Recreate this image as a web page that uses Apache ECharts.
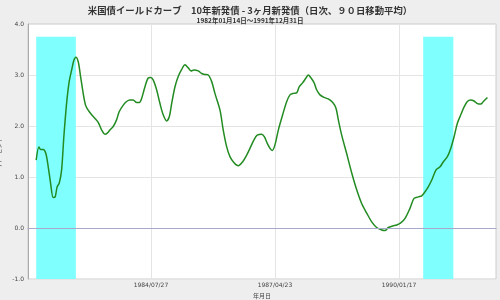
<!DOCTYPE html>
<html>
<head>
<meta charset="utf-8">
<script src="https://cdn.jsdelivr.net/npm/echarts@6/dist/echarts.min.js"></script>
<style>
html,body{margin:0;padding:0;background:#eeeeee;}
#c{width:500px;height:300px;}
</style>
</head>
<body>
<div id="c"></div>
<script>
var titleText = '米国債イールドカーブ　10年新発債 - 3ヶ月新発債（日次、９０日移動平均）';
var subText = '1982年01月14日～1991年12月31日';
var yName = 'パーセント';
var xName = '年月日';

var dates = [
'1982-01-14','1982-02-05','1982-02-19','1982-03-12','1982-04-02','1982-04-21','1982-05-10','1982-05-31','1982-06-16','1982-07-02',
'1982-07-19','1982-08-07','1982-08-25','1982-09-16','1982-10-07','1982-10-27','1982-11-14','1982-11-30','1982-12-19','1983-01-07',
'1983-01-28','1983-02-16','1983-03-09','1983-04-06','1983-05-02','1983-05-29','1983-06-26','1983-07-22','1983-08-10','1983-08-31',
'1983-09-27','1983-10-24','1983-11-14','1983-12-17','1984-01-13','1984-02-09','1984-03-06','1984-04-03','1984-04-24','1984-05-13',
'1984-06-09','1984-07-05','1984-07-25','1984-08-15','1984-09-11','1984-10-08','1984-11-03','1984-12-01','1984-12-22','1985-01-10',
'1985-02-06','1985-03-04','1985-04-01','1985-04-27','1985-05-24','1985-06-15','1985-07-09','1985-08-13','1985-09-09','1985-10-06',
'1985-11-01','1985-11-29','1985-12-25','1986-02-04','1986-03-02','1986-03-30','1986-04-25','1986-05-28','1986-07-01','1986-08-06',
'1986-09-07','1986-10-09','1986-11-05','1986-12-01','1987-01-06','1987-01-27','1987-02-20','1987-03-14','1987-04-01','1987-04-23',
'1987-05-20','1987-06-24','1987-07-27','1987-08-22','1987-09-18','1987-10-15','1987-11-05','1987-12-03','1987-12-29','1988-01-17',
'1988-02-05','1988-03-03','1988-03-24','1988-04-20','1988-05-22','1988-06-26','1988-08-01','1988-08-27','1988-09-15','1988-10-12',
'1988-11-21','1989-01-02','1989-02-10','1989-03-22','1989-05-02','1989-06-11','1989-07-21','1989-08-31','1989-09-26','1989-10-23',
'1989-11-27','1989-12-30','1990-01-31','1990-03-07','1990-04-16','1990-05-18','1990-06-22','1990-07-19','1990-08-15','1990-09-11',
'1990-10-08','1990-11-12','1990-12-14','1991-01-10','1991-02-11','1991-03-10','1991-04-06','1991-05-02','1991-05-30','1991-06-25',
'1991-07-22','1991-08-18','1991-09-14','1991-10-11','1991-11-07','1991-11-28','1991-12-31'
];
var spread = [
1.33,1.59,1.54,1.54,1.46,1.20,0.88,0.60,0.61,0.81,
0.88,1.14,1.79,2.44,2.87,3.10,3.29,3.35,3.26,2.97,
2.64,2.41,2.31,2.22,2.15,2.07,1.92,1.84,1.86,1.92,
1.99,2.12,2.28,2.41,2.48,2.51,2.51,2.46,2.46,2.54,
2.77,2.94,2.95,2.90,2.71,2.44,2.22,2.10,2.18,2.44,
2.77,2.97,3.11,3.20,3.14,3.08,3.10,3.08,3.03,3.01,
3.00,2.87,2.64,2.31,1.92,1.59,1.40,1.28,1.22,1.30,
1.43,1.59,1.73,1.82,1.84,1.79,1.66,1.56,1.52,1.63,
1.92,2.22,2.48,2.61,2.64,2.65,2.77,2.85,2.94,3.00,
2.95,2.85,2.71,2.61,2.56,2.53,2.46,2.35,2.12,1.82,
1.46,1.07,0.75,0.48,0.29,0.12,0.01,-0.04,-0.05,0.01,
0.04,0.06,0.10,0.19,0.39,0.58,0.61,0.63,0.71,0.81,
0.94,1.14,1.20,1.30,1.40,1.56,1.79,2.05,2.22,2.37,
2.48,2.51,2.49,2.44,2.43,2.48,2.56
];
var recessions = [['1982-01-14','1982-11-30'],['1990-07-31','1991-03-31']];
var recessionTop = 3.75;
var xTickDates = ['1984-07-27','1987-04-23','1990-01-17'];
var xRange = ['1981-11-09','1992-03-09'];
var yMin = -1, yMax = 4, yStep = 1;

function dayNum(s){var p=s.split('-');return Date.UTC(+p[0],+p[1]-1,+p[2])/86400000;}
function fmtDay(n){var d=new Date(Math.round(n)*86400000);
  var m=d.getUTCMonth()+1, dd=d.getUTCDate();
  return d.getUTCFullYear()+'/'+(m<10?'0':'')+m+'/'+(dd<10?'0':'')+dd;}

var seriesData = dates.map(function(d,i){return [dayNum(d), spread[i]];});
var ticks = xTickDates.map(dayNum);
var font = 'DejaVu Sans, Noto Sans CJK JP, sans-serif';
var cjk = 'Noto Sans CJK JP, sans-serif';

var chart = echarts.init(document.getElementById('c'), null, {renderer:'canvas'});
chart.setOption({
  animation:false,
  backgroundColor:'#eeeeee',
  title:{
    text:titleText, subtext:subText, left:'center', top:1, itemGap:2,
    textStyle:{fontSize:9.4, fontWeight:'bold', color:'#333', fontFamily:cjk},
    subtextStyle:{fontSize:6.5, fontWeight:'bold', color:'#333', fontFamily:cjk}
  },
  grid:{left:28, right:4, top:24, bottom:21, outerBoundsMode:'none', containLabel:false,
    show:true, backgroundColor:'#ffffff', borderColor:'#cccccc', borderWidth:1},
  xAxis:{
    type:'value', min:dayNum(xRange[0]), max:dayNum(xRange[1]),
    name:xName, nameLocation:'middle', nameGap:11,
    nameTextStyle:{fontSize:6, color:'#444', fontFamily:cjk},
    axisLine:{show:true, lineStyle:{color:'#aaaaaa'}},
    axisTick:{show:false, customValues:ticks},
    axisLabel:{customValues:ticks, fontSize:6, color:'#444', margin:3, fontFamily:font,
      formatter:function(v){return fmtDay(v);}},
    splitLine:{show:true, lineStyle:{color:'#e4e4e4', width:1}}
  },
  yAxis:{
    type:'value', min:yMin, max:yMax, interval:yStep,
    name:yName, nameLocation:'middle', nameGap:17, nameRotate:90,
    nameTextStyle:{fontSize:6, color:'#444', fontFamily:cjk},
    axisLine:{show:true, lineStyle:{color:'#aaaaaa'}},
    axisTick:{show:false},
    axisLabel:{fontSize:6, color:'#444', margin:4, fontFamily:font,
      formatter:function(v){return v.toFixed(1);}},
    splitLine:{show:true, lineStyle:{color:'#e4e4e4', width:1}}
  },
  series:[{
    type:'line', data:seriesData, showSymbol:false, smooth:0.3,
    lineStyle:{color:'#228b22', width:1.5},
    itemStyle:{color:'#228b22'},
    z:3,
    markArea:{
      silent:true,
      itemStyle:{color:'#80ffff', opacity:1},
      data:recessions.map(function(r){return [{coord:[dayNum(r[0]), recessionTop]},{coord:[dayNum(r[1]), yMin]}];})
    },
    markLine:{
      silent:true, symbol:'none', label:{show:false},
      lineStyle:{color:'#a8a8cc', width:1, type:'solid'},
      data:[{yAxis:0}]
    }
  }]
});
</script>
</body>
</html>
